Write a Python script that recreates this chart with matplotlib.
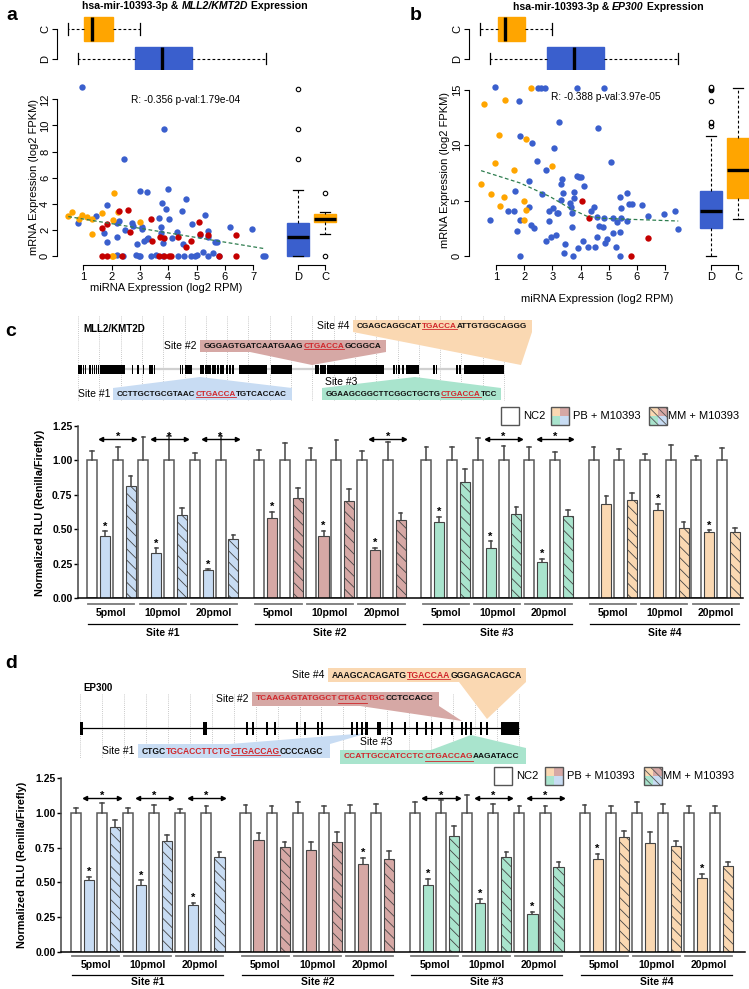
import matplotlib
matplotlib.use("Agg")
import matplotlib.pyplot as plt
from matplotlib import font_manager
from matplotlib.patches import Rectangle, Polygon

plt.rcParams["font.family"] = ["Liberation Sans", "DejaVu Sans"]
plt.rcParams["hatch.linewidth"] = 0.6

# ---------------- data ----------------
# panel a : hsa-mir-10393-3p vs MLL2/KMT2D (x = miRNA log2 RPM, y = mRNA log2 FPKM)
a_orange_x = [0.47, 0.59, 0.85, 0.96, 1.14, 1.32, 1.65, 1.29, 2.09, 2.24, 2.06, 3.00, 2.00, 2.06]
a_orange_y = [3.09, 3.34, 2.83, 3.14, 2.96, 2.83, 3.27, 1.69, 4.85, 3.40, 2.76, 2.63, 0.00, 0.00]
a_blue_x = [0.96, 2.45, 3.86, 3.00, 3.24, 4.00, 4.61, 3.79, 3.91, 1.85, 4.47, 5.29, 4.82, 4.02, 3.67,
            3.76, 3.76, 3.80, 4.12, 4.29, 4.53, 5.12, 5.41, 5.41, 5.65, 5.73, 6.18, 6.96, 1.44, 0.82,
            1.73, 1.85, 2.18, 2.20, 2.26, 2.47, 2.73, 2.75, 2.88, 3.06, 3.06, 3.14, 3.24, 3.29, 5.24,
            5.59, 2.20, 2.85, 2.95, 3.00, 3.40, 3.55, 3.80, 4.35, 4.55, 4.80, 4.95, 5.40, 5.80, 7.35,
            7.43, 5.00, 2.40]
a_blue_y = [12.97, 7.43, 9.75, 5.00, 4.93, 5.10, 4.34, 4.03, 3.57, 3.88, 3.42, 3.14, 2.45, 2.80, 2.88,
            2.25, 1.74, 1.02, 1.35, 1.81, 0.92, 1.61, 1.89, 1.43, 1.10, 1.10, 2.25, 2.09, 3.04, 2.50,
            1.79, 1.07, 1.48, 2.50, 2.68, 1.99, 2.50, 2.32, 0.92, 2.04, 2.25, 1.12, 1.28, 1.35, 0.28,
            0.26, 0.10, 0.10, 0.00, 0.00, 0.00, 0.05, 0.00, 0.00, 0.00, 0.00, 0.00, 0.00, 0.00, 0.00,
            0.00, 0.05, 0.00]
a_red_x = [1.65, 1.85, 2.27, 2.59, 2.65, 3.38, 3.41, 3.71, 3.85, 4.35, 4.61, 4.80, 5.08, 5.12, 5.41,
           6.39, 1.65, 1.85, 2.38, 3.67, 3.85, 4.02, 4.08, 5.80, 6.39]
a_red_y = [2.14, 2.45, 3.45, 3.50, 1.81, 2.83, 1.12, 1.43, 1.35, 1.43, 0.66, 1.12, 2.63, 1.69, 1.63,
           1.61, 0, 0, 0, 0, 0, 0, 0, 0, 0]
a_trend_x = [0.47, 7.35]
a_trend_y = [3.02, 0.58]
a_corr = "R: -0.356 p-val:1.79e-04"
# boxplot stats (whislo, q1, med, q3, whishi, outliers), D then C
a_top_D = [0.80, 2.83, 3.79, 4.85, 7.44, []]
a_top_C = [0.47, 1.03, 1.31, 2.05, 3.00, []]
a_side_D = [0.00, 0.00, 1.45, 2.50, 5.05, [7.4, 9.7, 12.8]]
a_side_C = [1.70, 2.60, 2.85, 3.20, 3.40, [4.85, 0.0]]

# panel b : hsa-mir-10393-3p vs EP300
b_orange_x = [0.47, 0.59, 1.32, 0.83, 0.96, 1.11, 1.14, 1.30, 1.65, 2.01, 2.05, 2.07, 2.00, 2.24, 2.98]
b_orange_y = [6.48, 13.70, 14.10, 5.57, 8.43, 10.93, 4.55, 5.36, 7.74, 5.00, 4.16, 10.54, 3.25, 15.15, 8.16]
b_blue_x = [0.96, 1.82, 0.79, 1.41, 1.65, 1.67, 1.73, 1.85, 1.85, 1.86, 2.17, 2.17, 2.27, 2.23, 2.36,
            2.44, 2.50, 2.60, 2.74, 2.64, 2.76, 2.76, 2.88, 2.88, 2.94, 3.04, 3.06, 3.12, 3.15, 3.21,
            3.25, 3.31, 3.31, 3.36, 3.39, 3.45, 3.43, 3.63, 3.66, 3.69, 3.69, 3.72, 3.77, 3.77, 3.86,
            3.86, 3.92, 3.95, 4.02, 4.10, 4.14, 4.28, 4.36, 4.48, 4.51, 4.57, 4.60, 4.63, 4.67, 4.81,
            4.85, 4.85, 4.87, 4.95, 5.08, 5.14, 5.17, 5.25, 5.31, 5.40, 5.43, 5.43, 5.40, 5.40, 5.64,
            5.66, 5.73, 5.84, 6.17, 6.41, 6.98, 7.36, 7.45]
b_blue_y = [15.30, 14.00, 3.25, 4.07, 4.07, 5.87, 2.26, 3.25, 0.00, 10.84, 4.46, 6.78, 10.18, 2.80, 2.56,
            8.61, 15.20, 15.20, 15.20, 5.63, 7.77, 1.39, 3.19, 4.10, 1.69, 4.31, 9.79, 1.90, 3.86, 3.86,
            12.08, 5.06, 6.48, 6.93, 5.72, 1.08, 0.24, 4.76, 4.46, 3.86, 2.65, 0.00, 5.81, 5.21, 15.20,
            7.26, 0.75, 7.17, 7.11, 1.39, 6.36, 0.84, 4.10, 4.46, 0.78, 3.49, 1.69, 11.60, 2.71, 2.65,
            3.46, 15.15, 1.14, 1.54, 8.52, 3.46, 2.05, 0.78, 3.10, 5.36, 4.34, 3.40, 2.14, 0.00, 5.66,
            3.19, 4.67, 4.67, 4.61, 3.64, 3.80, 4.10, 2.44]
b_red_x = [4.04, 4.30, 5.79, 6.41]
b_red_y = [4.97, 3.46, 0.00, 1.60]
b_trend_x = [0.47, 1.85, 2.92, 3.63, 4.22, 4.81, 7.47]
b_trend_y = [7.71, 6.60, 5.36, 4.30, 3.60, 3.40, 3.16]
b_corr = "R: -0.388 p-val:3.97e-05"
b_top_D = [0.79, 2.80, 3.78, 4.85, 7.45, []]
b_top_C = [0.43, 1.06, 1.32, 2.03, 3.00, []]
b_side_D = [0.00, 2.50, 4.05, 5.90, 10.80, [11.75, 12.0, 12.1, 14.04, 15.0, 15.1, 15.2, 15.25]]
b_side_C = [3.30, 5.20, 7.75, 10.70, 15.20, []]

# luciferase assays: 4 sites x 3 doses (5, 10, 20 pmol)
sites = ["Site #1", "Site #2", "Site #3", "Site #4"]
doses = ["5pmol", "10pmol", "20pmol"]
nc2_level = 1.0
c_nc1_err = [[0.065, 0.17, 0.053], [0.077, 0.089, 0.065], [0.10, 0.16, 0.10], [0.097, 0.048, 0.034]]
c_nc2_err = [[0.10, 0.18, 0.18], [0.126, 0.15, 0.13], [0.10, 0.105, 0.058], [0.082, 0.114, 0.087]]
c_pb = [[0.455, 0.327, 0.206], [0.581, 0.453, 0.349], [0.550, 0.368, 0.264], [0.685, 0.639, 0.482]]
c_pb_err = [[0.03, 0.036, 0.005], [0.048, 0.036, 0.019], [0.039, 0.044, 0.022], [0.06, 0.044, 0.012]]
c_mm = [[0.816, 0.605, 0.428], [0.726, 0.707, 0.567], [0.840, 0.613, 0.596], [0.712, 0.511, 0.482]]
c_mm_err = [[0.073, 0.053, 0.031], [0.073, 0.085, 0.053], [0.097, 0.051, 0.044], [0.051, 0.041, 0.031]]
c_star = [[1, 1, 1], [1, 1, 1], [1, 1, 1], [0, 1, 1]]
c_bracket = [[1, 1, 1], [0, 0, 1], [0, 1, 1], [0, 0, 0]]

d_nc1_err = [[0.036, 0.036, 0.024], [0.055, 0.077, 0.055], [0.079, 0.124, 0.048], [0.055, 0.077, 0.048]]
d_nc2_err = [[0.072, 0.055, 0.048], [0.048, 0.048, 0.065], [0.091, 0.065, 0.048], [0.048, 0.06, 0.048]]
d_pb = [[0.515, 0.479, 0.340], [0.807, 0.735, 0.632], [0.479, 0.350, 0.273], [0.670, 0.783, 0.532]]
d_pb_err = [[0.024, 0.036, 0.012], [0.048, 0.053, 0.043], [0.048, 0.031, 0.014], [0.034, 0.079, 0.029]]
d_mm = [[0.898, 0.800, 0.680], [0.754, 0.790, 0.670], [0.833, 0.680, 0.611], [0.824, 0.764, 0.615]]
d_mm_err = [[0.053, 0.038, 0.038], [0.034, 0.072, 0.053], [0.069, 0.038, 0.036], [0.043, 0.036, 0.031]]
d_star = [[1, 1, 1], [0, 0, 1], [1, 1, 1], [1, 0, 1]]
d_bracket = [[1, 1, 1], [0, 0, 0], [1, 1, 1], [0, 0, 0]]

# gene models (position along gene drawing, exon start / end)
c_exon_thin = [1, 3, 5.3, 7.7, 12, 14.3, 16.3, 18.7, 20.7, 54.3, 60, 65.3, 76.5, 102.5, 104.5, 123, 125,
               128, 130, 132, 135, 137, 140, 143, 145, 149, 152, 155, 238, 240, 243, 245, 247, 316,
               318.7, 321, 325, 356, 358.7, 379, 382]
c_exon_block = [(22, 47), (71, 75), (107, 114), (161, 189), (193, 214), (249, 306), (328, 341), (386, 426)]
d_exon_thin = [167, 173, 187, 195, 217, 225, 238, 242, 272, 277, 282, 312, 337, 346, 352, 361, 372,
               386, 391, 401, 407]
d_exon_block = [(0, 3), (123, 127), (285, 288), (297, 301), (324, 326), (381, 383), (421, 439)]

# target sequences ("k" plain, "r" red, "u" red underlined seed)
c_seqs = [[("CCTTGCTGCGTAAC", "k"), ("CTGACCA", "u"), ("TGTCACCAC", "k")],
          [("GGGAGTGATCAATGAAG", "k"), ("CTGACCA", "u"), ("GCGGCA", "k")],
          [("GGAAGCGGCTTCGGCTGCTG", "k"), ("CTGACCA", "u"), ("TCC", "k")],
          [("CGAGCAGGCAT", "k"), ("TGACCA", "u"), ("ATTGTGGCAGGG", "k")]]
d_seqs = [[("CTGC", "k"), ("TGCACCTTCTG", "r"), ("CTGACCAG", "u"), ("CCCCAGC", "k")],
          [("TCAAGAGTATGGCT", "r"), ("CTGAC", "u"), ("TGC", "r"), ("CCTCCACC", "k")],
          [("CCATTGCCATCCTC", "r"), ("CTGACCAG", "u"), ("AAGATACC", "k")],
          [("AAAGCACAGATG", "k"), ("TGACCAA", "u"), ("GGGAGACAGCA", "k")]]

# ---------------- styles ----------------
BLUE, ORANGE, RED, GREEN = "#3a5fcd", "#ffa500", "#c40000", "#2e7d4f"
SITE_COL = ["#c8dcf3", "#d6a8a5", "#a9e4cd", "#fad8b2"]
SEQ_RED = "#d0262b"
names = {f.name for f in font_manager.fontManager.ttflist}
SANS = ["Liberation Sans", "DejaVu Sans"]
NARROW = (["Liberation Sans Narrow"] if "Liberation Sans Narrow" in names else []) + SANS

W, H = 749, 989
fig = plt.figure(figsize=(W / 100, H / 100), dpi=100)


def add_ax(l, t, r, b):
    return fig.add_axes([l / W, 1 - b / H, (r - l) / W, (b - t) / H])


ov = fig.add_axes([0, 0, 1, 1])
ov.set_xlim(0, W)
ov.set_ylim(H, 0)
ov.axis("off")
ov.set_zorder(10)
renderer = fig.canvas.get_renderer()


def draw_runs(x, y, parts, size, fam=None, weight="bold", fit=None, ha="left"):
    fam = fam or SANS

    def build(sz):
        arts = [ov.text(0, y, p[0], fontsize=sz, color=p[1], fontweight=weight, fontstyle=p[3],
                        family=fam, va="center", ha="left") for p in parts]
        return arts, [t.get_window_extent(renderer).width for t in arts]

    arts, ws = build(size)
    if fit:
        for t in arts:
            t.remove()
        size = size * fit / sum(ws)
        arts, ws = build(size)
    cur = x - sum(ws) / 2 if ha == "center" else x
    for t, w, p in zip(arts, ws, parts):
        t.set_x(cur)
        if p[2]:
            uy = y + size * 100 / 72 * 0.42
            ov.plot([cur, cur + w], [uy, uy], color=p[1], lw=0.6)
        cur += w


def seq_parts(seq):
    out = []
    for txt, kind in seq:
        col = "#111111" if kind == "k" else SEQ_RED
        out.append((txt, col, kind == "u", "normal"))
    return out


def stats(v, label):
    return dict(whislo=v[0], q1=v[1], med=v[2], q3=v[3], whishi=v[4], fliers=v[5], label=label)


def draw_box(ax, D, C, orient, pos):
    bp = ax.bxp([stats(D, "D"), stats(C, "C")], positions=pos, widths=0.8, orientation=orient,
                patch_artist=True, showfliers=True, capwidths=0.4,
                medianprops=dict(color="black", lw=2.4),
                whiskerprops=dict(color="black", lw=0.8, ls=(0, (2.5, 2))),
                capprops=dict(color="black", lw=0.9),
                flierprops=dict(marker="o", mfc="white", mec="black", ms=3.2, mew=0.8))
    for patch, col in zip(bp["boxes"], [BLUE, ORANGE]):
        patch.set_facecolor(col)
        patch.set_edgecolor(col)


def expr_panel(L, R, xref, xs, yref, ys, yticks, side_l, side_r, d_px,
               blue, orange, red, trend, top, side):
    T, B = 82, 265
    sc = add_ax(L, T, R, B)
    sc.set_xlim(1 + (L - xref) / xs, 1 + (R - xref) / xs)
    sc.set_ylim((yref - B) / ys, (yref - T) / ys)
    for (px, py), col in zip([blue, orange, red], [BLUE, ORANGE, RED]):
        sc.scatter(px, py, s=21, color=col, lw=0, clip_on=False, zorder=3)
    sc.plot(trend[0], trend[1], color=GREEN, lw=0.9, ls=(0, (3, 2)), zorder=4)
    for s in ["top", "right"]:
        sc.spines[s].set_visible(False)
    sc.spines["left"].set_bounds(yticks[0], yticks[-1])
    sc.spines["bottom"].set_bounds(1, 7)
    sc.set_yticks(yticks)
    sc.set_xticks(range(1, 8))
    sc.tick_params(length=3.5, width=0.8, labelsize=8, pad=1.5)
    sc.tick_params(axis="y", labelrotation=90)
    for t in sc.get_yticklabels():
        t.set_va("center")

    tb = add_ax(L, 12, R, 70)
    tb.set_xlim(sc.get_xlim())
    tb.set_ylim(0.61, 2.58)
    draw_box(tb, top[0], top[1], "horizontal", [1, 2])
    for s in ["top", "right", "bottom"]:
        tb.spines[s].set_visible(False)
    tb.spines["left"].set_bounds(1, 2)
    tb.set_xticks([])
    tb.set_yticks([1, 2], ["D", "C"])
    tb.tick_params(axis="y", length=3.5, width=0.8, labelsize=8, pad=1.5, labelrotation=90)
    for t in tb.get_yticklabels():
        t.set_va("center")

    sb = add_ax(side_l, T, side_r, B)
    sb.set_ylim(sc.get_ylim())
    sb.set_xlim(1 - (d_px - side_l) / 27, 1 + (side_r - d_px) / 27)
    draw_box(sb, side[0], side[1], "vertical", [1, 2])
    for s in ["top", "right", "left"]:
        sb.spines[s].set_visible(False)
    sb.spines["bottom"].set_bounds(1, 2)
    sb.set_yticks([])
    sb.set_xticks([1, 2], ["D", "C"])
    sb.tick_params(axis="x", length=3.5, width=0.8, labelsize=8, pad=1.5)
    for a in (sc, tb, sb):
        a.patch.set_alpha(0)


# ---------------- panels a and b ----------------
expr_panel(57, 275, 83.3, 28.33, 256, 13.06, [0, 2, 4, 6, 8, 10, 12], 283, 342, 298,
           (a_blue_x, a_blue_y), (a_orange_x, a_orange_y), (a_red_x, a_red_y),
           (a_trend_x, a_trend_y), (a_top_D, a_top_C), (a_side_D, a_side_C))
expr_panel(469, 690, 496, 28.17, 256, 11.07, [0, 5, 10, 15], 697, 762, 711,
           (b_blue_x, b_blue_y), (b_orange_x, b_orange_y), (b_red_x, b_red_y),
           (b_trend_x, b_trend_y), (b_top_D, b_top_C), (b_side_D, b_side_C))

draw_runs(195, 6, [("hsa-mir-10393-3p & ", "black", False, "normal"),
                   ("MLL2/KMT2D", "black", False, "italic"),
                   (" Expression", "black", False, "normal")], 7.6, ha="center")
draw_runs(608, 7, [("hsa-mir-10393-3p & ", "black", False, "normal"),
                   ("EP300", "black", False, "italic"),
                   (" Expression", "black", False, "normal")], 7.6, ha="center")
ov.text(186, 100, a_corr, fontsize=7.3, ha="center", va="center")
ov.text(606, 97, b_corr, fontsize=7.3, ha="center", va="center")
ov.text(34, 177, "mRNA Expression (log2 FPKM)", fontsize=8, rotation=90, ha="center", va="center")
ov.text(445, 170, "mRNA Expression (log2 FPKM)", fontsize=8, rotation=90, ha="center", va="center")
ov.text(166, 288, "miRNA Expression (log2 RPM)", fontsize=8, ha="center", va="center")
ov.text(597, 299, "miRNA Expression (log2 RPM)", fontsize=8, ha="center", va="center")
for lab, x, y in [("a", 6, 16), ("b", 410, 16), ("c", 5, 331), ("d", 5, 664)]:
    ov.text(x, y, lab, fontsize=14, fontweight="bold", ha="left", va="center")


# ---------------- gene diagrams ----------------
def gene_diagram(g0, g1, gy, thin, blocks, eh, grid_top, grid_bot, line_col, line_w,
                 boxes, wedges, labels, seqs, name, name_xy):
    n = 20
    for k in range(n + 1):
        gx = g0 + (g1 - g0) * k / n
        ov.plot([gx, gx], [grid_top, grid_bot], color="#b8b8b8", lw=0.6, ls=(0, (1, 1.5)), zorder=1)
    for i in range(4):
        x0, x1, yt, yb = boxes[i]
        ov.add_patch(Polygon(wedges[i], closed=True, fc=SITE_COL[i], ec="none", zorder=2))
        ov.add_patch(Rectangle((x0, yt), x1 - x0, yb - yt, fc=SITE_COL[i], ec="none", zorder=2))
        draw_runs(x0 + 4, (yt + yb) / 2, seq_parts(seqs[i]), 6, fam=NARROW, fit=x1 - x0 - 8)
        lx, ly, lha = labels[i]
        ov.text(lx, ly, sites[i], fontsize=7.5, ha=lha, va="center", zorder=3)
    ov.plot([g0, g1], [gy, gy], color=line_col, lw=line_w, zorder=3, solid_capstyle="butt")
    for u in thin:
        ov.add_patch(Rectangle((g0 + u - 0.65, gy - eh / 2), 1.3, eh, fc="black", lw=0, zorder=4))
    for a, b in blocks:
        ov.add_patch(Rectangle((g0 + a, gy - eh / 2), b - a, eh, fc="black", lw=0, zorder=4))
    ov.text(name_xy[0], name_xy[1], name, fontsize=7, fontweight="bold", va="center")


gene_diagram(78, 504, 369, c_exon_thin, c_exon_block, 9, 316, 400, "#d0d0d0", 1.6,
             [(113, 292, 388, 400), (200, 386, 340, 352), (322, 501, 388, 400), (353, 532, 320, 332)],
             [[(113, 388), (200, 377), (292, 388)],
              [(250, 352), (386, 352), (312, 365)],
              [(322, 388), (415, 377), (501, 388)],
              [(353, 332), (532, 332), (521, 365)]],
             [(110, 394, "right"), (196, 346, "right"), (325, 382, "left"), (349, 326, "right")],
             c_seqs, "MLL2/KMT2D", (83, 329))
gene_diagram(80, 519, 728, d_exon_thin, d_exon_block, 13, 694, 758, "black", 0.9,
             [(138, 330, 744, 758), (252, 439, 692, 706), (340, 526, 750, 764), (328, 526, 668, 682)],
             [[(230, 744), (330, 744), (368, 733)],
              [(360, 706), (439, 706), (462, 721)],
              [(340, 750), (431, 750), (471, 735), (526, 748), (526, 750)],
              [(459, 682), (526, 682), (487, 719)]],
             [(134, 751, "right"), (248, 699, "right"), (360, 742, "left"), (324, 675, "right")],
             d_seqs, "EP300", (83, 688))


# ---------------- bar panels c and d ----------------
def legend(x_nc, x_pb, x_mm, top, size):
    ov.add_patch(Rectangle((x_nc, top), size, size, fc="white", ec="#555555", lw=1))
    ov.text(x_nc + size + 4, top + size / 2, "NC2", fontsize=8, va="center")
    quads = [(0, 0, 3), (1, 0, 1), (0, 1, 2), (1, 1, 0)]
    for x0, hatch, lab in [(x_pb, None, "PB + M10393"), (x_mm, "\\\\\\\\", "MM + M10393")]:
        for qx, qy, s in quads:
            ov.add_patch(Rectangle((x0 + qx * size / 2, top + qy * size / 2), size / 2, size / 2,
                                   fc=SITE_COL[s], ec="#555555" if hatch else "none", lw=0,
                                   hatch=hatch))
        ov.add_patch(Rectangle((x0, top), size, size, fc="none", ec="#555555", lw=1))
        ov.text(x0 + size + (4 if hatch is None else 1), top + size / 2, lab, fontsize=8, va="center")


def bar_panel(L, R, T, B, ytop, xlim, nc1e, nc2e, pb, pbe, mm, mme, star, brk, brk_y,
              y_dline, y_dtxt, y_sline, y_stxt):
    ax = add_ax(L, T, R, B)
    ax.set_xlim(*xlim)
    ax.set_ylim(0, ytop)
    bw = 0.78
    for s in range(4):
        for d in range(3):
            x0 = s * 13 + d * 4
            ax.bar([x0, x0 + 2], [nc2_level, nc2_level], width=bw, color="white",
                   edgecolor="#5a5a5a", lw=1.1, zorder=2)
            ax.bar(x0 + 1, pb[s][d], width=bw, color=SITE_COL[s], edgecolor="#444444", lw=0.8, zorder=2)
            ax.bar(x0 + 3, mm[s][d], width=bw, color=SITE_COL[s], edgecolor="#444444", lw=0.8,
                   hatch="\\\\\\", zorder=2)
            for x, v, e in [(x0, nc2_level, nc1e[s][d]), (x0 + 1, pb[s][d], pbe[s][d]),
                            (x0 + 2, nc2_level, nc2e[s][d]), (x0 + 3, mm[s][d], mme[s][d])]:
                ax.plot([x, x], [v, v + e], color="#444444", lw=1.1, zorder=3)
                ax.plot([x - 0.14, x + 0.14], [v + e, v + e], color="#444444", lw=1.1, zorder=3)
            if star[s][d]:
                ax.text(x0 + 1, pb[s][d] + pbe[s][d] + 0.035, "*", fontsize=8, fontweight="bold",
                        ha="center", va="center")
            if brk[s][d]:
                ax.plot([x0 + 0.72, x0 + 3.28], [brk_y, brk_y], color="black", lw=1, zorder=4)
                ax.plot([x0 + 0.72], [brk_y], marker="<", ms=3, color="black", zorder=4)
                ax.plot([x0 + 3.28], [brk_y], marker=">", ms=3, color="black", zorder=4)
                ax.text(x0 + 2, brk_y + 0.012, "*", fontsize=8, fontweight="bold",
                        ha="center", va="center", zorder=5)
            ax.plot([x0 - 0.3, x0 + 3.3], [y_dline, y_dline], color="#7a7a7a", lw=1.3, clip_on=False)
            ax.text(x0 + 1.5, y_dtxt, doses[d], fontsize=7.5, fontweight="bold", ha="center",
                    va="center", clip_on=False)
        ax.plot([s * 13 - 0.3, s * 13 + 11.3], [y_sline, y_sline], color="black", lw=0.9, clip_on=False)
        ax.text(s * 13 + 5.5, y_stxt, sites[s], fontsize=7.5, fontweight="bold", ha="center",
                va="center", clip_on=False)
    for s in ["top", "right"]:
        ax.spines[s].set_visible(False)
    ax.spines["left"].set_bounds(0, 1.25)
    ax.spines["left"].set_color("#444444")
    ax.spines["left"].set_linewidth(1.1)
    ax.spines["bottom"].set_linewidth(1.1)
    ax.set_xticks([])
    ax.set_yticks([0, 0.25, 0.5, 0.75, 1.0, 1.25], ["0.00", "0.25", "0.50", "0.75", "1.00", "1.25"])
    ax.tick_params(axis="y", length=3, width=1, pad=1, labelsize=7.5)
    for t in ax.get_yticklabels():
        t.set_fontweight("bold")
    ax.patch.set_alpha(0)
    return ax


bar_panel(78, 743, 420, 598.3, 1.293, (-1.09, 50.62), c_nc1_err, c_nc2_err, c_pb, c_pb_err,
          c_mm, c_mm_err, c_star, c_bracket, 1.157, -0.041, -0.107, -0.186, -0.250)
bar_panel(61, 745, 770, 952, 1.307, (-1.15, 51.3), d_nc1_err, d_nc2_err, d_pb, d_pb_err,
          d_mm, d_mm_err, d_star, d_bracket, 1.106, -0.032, -0.090, -0.165, -0.212)
legend(501, 551, 649, 407, 18)
legend(494, 545, 644, 767, 18)
ov.text(40, 513, "Normalized RLU (Renilla/Firefly)", fontsize=7.8, fontweight="bold", rotation=90,
        ha="center", va="center")
ov.text(22, 865, "Normalized RLU (Renilla/Firefly)", fontsize=7.8, fontweight="bold", rotation=90,
        ha="center", va="center")

fig.savefig("out.png", dpi=100)
